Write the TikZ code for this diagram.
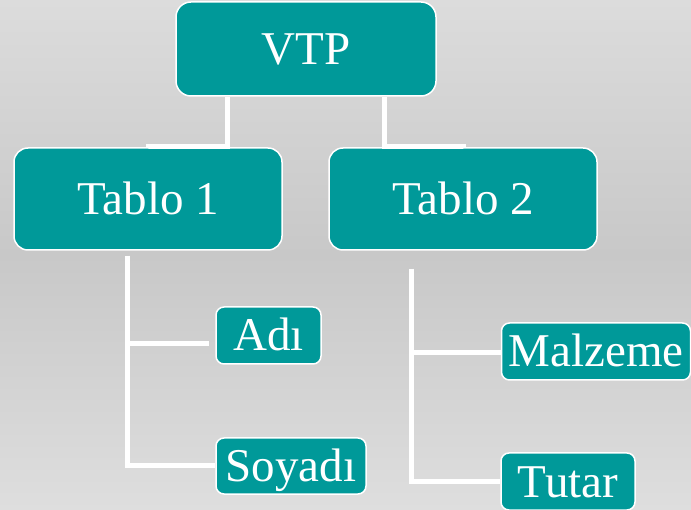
\documentclass[tikz,border=0pt]{standalone}
\usepackage{fontspec}
\setmainfont{Liberation Serif}
\usetikzlibrary{positioning}
\definecolor{vtpteal}{RGB}{0,153,153}
\definecolor{bgtop}{RGB}{220,220,220}
\definecolor{bgmid}{RGB}{200,200,200}
\definecolor{bgbot}{RGB}{222,222,222}

\begin{document}
\begin{tikzpicture}[
    x=1pt, y=-1pt,
    box/.style={rectangle, rounded corners=8pt, draw=white, line width=1.5pt, fill=vtpteal,
      text=white, inner sep=0pt, font=\fontsize{47}{50}\selectfont, text height=31pt, text depth=0pt},
    conn/.style={draw=white, line width=5pt}
]
  \shade[top color=bgtop, bottom color=bgbot, middle color=bgmid] (0,0) rectangle (691,510);
  \useasboundingbox (0,0) rectangle (691,510);

  \node[box, rounded corners=15pt, minimum width=260pt, minimum height=94pt] (vtp) at (306,49) {VTP};
  \node[box, rounded corners=14pt, minimum width=268pt, minimum height=102pt] (tab1) at (148,199) {Tablo 1};
  \node[box, rounded corners=14pt, minimum width=268pt, minimum height=102pt] (tab2) at (463,199) {Tablo 2};

  \node[box, minimum width=105pt, minimum height=57pt] (adi) at (268.5,335.5) {Adı};
  \node[box, minimum width=150pt, minimum height=56pt] (soyadi) at (291,466) {Soyadı};
  \node[box, minimum width=189pt, minimum height=57pt] (malz) at (596,351.5) {Malzeme};
  \node[box, minimum width=134pt, minimum height=57pt] (tutar) at (568,481.5) {Tutar};

  % VTP to tables
  \draw[conn] ([xshift=-79pt]vtp.south) -- ++(0,50) -| (tab1.north);
  \draw[conn] ([xshift=78pt]vtp.south) -- ++(0,50) -| (tab2.north);

  % Tablo 1 fields
  \coordinate (trunk1) at ([xshift=-21pt,yshift=-5pt]tab1.south);
  \draw[conn] (trunk1) |- (soyadi.west);
  \draw[conn] (trunk1 |- adi.west) ++(0,8) -- ([xshift=-6pt,yshift=-8pt]adi.west);

  % Tablo 2 fields
  \coordinate (trunk2) at ([xshift=-52pt,yshift=-18pt]tab2.south);
  \draw[conn] (trunk2) |- (tutar.west);
  \draw[conn] (trunk2 |- malz.west) ++(0,1.5) -- ([yshift=-1.5pt]malz.west);
\end{tikzpicture}
\end{document}
